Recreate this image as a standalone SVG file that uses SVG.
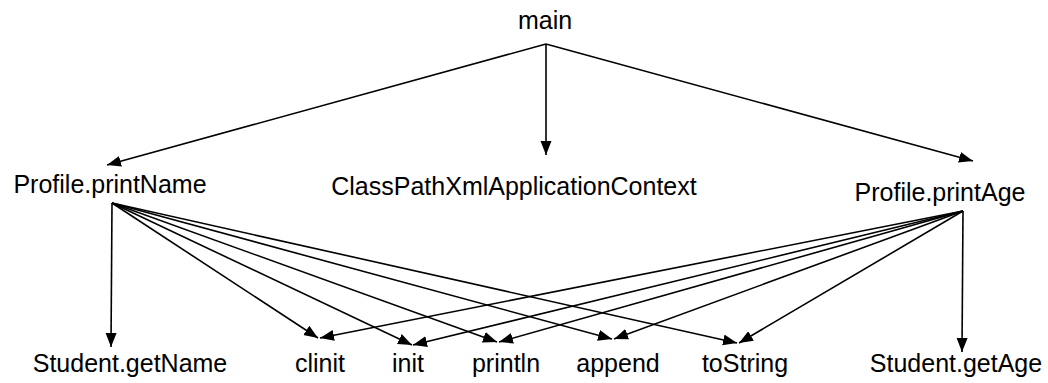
<svg xmlns="http://www.w3.org/2000/svg" width="1048" height="383" viewBox="0 0 1048 383">
  <style>
    .label { font-family: "Liberation Sans", Arial, sans-serif; font-size: 25px; fill: #000; text-anchor: middle; }
    .edge { stroke: #000; stroke-width: 1.6; fill: none; marker-end: url(#arrow); }
  </style>
  <defs>
    <marker id="arrow" markerUnits="userSpaceOnUse" markerWidth="16" markerHeight="12" refX="14" refY="5.5" orient="auto">
      <path d="M0,0 L14,5.5 L0,11 Z" fill="#000"/>
    </marker>
  </defs>
  <rect width="1048" height="383" fill="#fff"/>

  <g id="connectors">
    <!-- main -->
    <line class="edge" x1="546" y1="44" x2="107" y2="165"/>
    <line class="edge" x1="546" y1="44" x2="546" y2="155"/>
    <line class="edge" x1="546" y1="44" x2="973" y2="161"/>
    <!-- Profile.printName -->
    <line class="edge" x1="112" y1="203" x2="111" y2="347"/>
    <line class="edge" x1="112" y1="203" x2="318" y2="338"/>
    <line class="edge" x1="112" y1="203" x2="412" y2="345"/>
    <line class="edge" x1="112" y1="203" x2="497" y2="342"/>
    <line class="edge" x1="112" y1="203" x2="612" y2="339"/>
    <line class="edge" x1="112" y1="203" x2="737" y2="343"/>
    <!-- Profile.printAge -->
    <line class="edge" x1="963" y1="211" x2="320" y2="338"/>
    <line class="edge" x1="963" y1="211" x2="413" y2="345"/>
    <line class="edge" x1="963" y1="211" x2="499" y2="342"/>
    <line class="edge" x1="963" y1="211" x2="614" y2="339"/>
    <line class="edge" x1="963" y1="211" x2="739" y2="343"/>
    <line class="edge" x1="963" y1="211" x2="962" y2="352"/>
  </g>

  <g id="node-main"><text class="label" x="545" y="29">main</text></g>
  <g id="node-printName"><text class="label" x="110" y="193">Profile.printName</text></g>
  <g id="node-context"><text class="label" x="514" y="195">ClassPathXmlApplicationContext</text></g>
  <g id="node-printAge"><text class="label" x="940" y="201">Profile.printAge</text></g>
  <g id="node-getName"><text class="label" x="130" y="372">Student.getName</text></g>
  <g id="node-clinit"><text class="label" x="320" y="372">clinit</text></g>
  <g id="node-init"><text class="label" x="408" y="372">init</text></g>
  <g id="node-println"><text class="label" x="506" y="372">println</text></g>
  <g id="node-append"><text class="label" x="618" y="372">append</text></g>
  <g id="node-toString"><text class="label" x="745" y="372">toString</text></g>
  <g id="node-getAge"><text class="label" x="956" y="372">Student.getAge</text></g>
</svg>
